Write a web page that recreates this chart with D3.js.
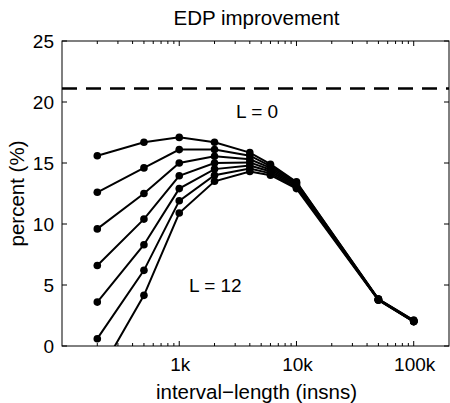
<!DOCTYPE html>
<html>
<head>
<meta charset="utf-8">
<script src="https://cdn.jsdelivr.net/npm/d3@7"></script>
<style>
  body { margin: 0; background: #fff; }
  text { font-family: "Liberation Sans", Arial, sans-serif; fill: #000; }
</style>
</head>
<body>
<svg id="chart"></svg>
<script>
// interval lengths (instructions)
var intervals = [200, 500, 1000, 2000, 4000, 6000, 10000, 50000, 100000];
// one series per L (0, 2, ..., 12)
var L0  = [15.6, 16.7, 17.1, 16.7, 15.85, 14.9, 13.45, 3.85, 2.1];
var L2  = [12.6, 14.6, 16.1, 16.1, 15.6, 14.75, 13.4, 3.85, 2.1];
var L4  = [9.6, 12.5, 15.0, 15.55, 15.3, 14.6, 13.3, 3.8, 2.05];
var L6  = [6.6, 10.4, 13.95, 15.0, 15.05, 14.45, 13.2, 3.8, 2.05];
var L8  = [3.6, 8.3, 12.9, 14.5, 14.8, 14.3, 13.1, 3.8, 2.0];
var L10 = [0.6, 6.2, 11.9, 14.0, 14.55, 14.15, 13.0, 3.8, 2.0];
var L12 = [-2.5, 4.15, 10.9, 13.5, 14.3, 14.0, 12.9, 3.75, 2.0];
var allSeries = [L0, L2, L4, L6, L8, L10, L12];
var limitValue = 21.1;   // dashed line
var yTicks = [0, 5, 10, 15, 20, 25];
var xTicks = [1000, 10000, 100000];
var xTickLabels = ["1k", "10k", "100k"];

var width = 450, height = 403;
var left = 62, top_ = 41, right = 449, bottom = 346;
var fontSize = 19;
var labelSize = 20.5;

var svg = d3.select("#chart").attr("width", width).attr("height", height);

var x = d3.scaleLog().domain([100, 200000]).range([left, right]);
var y = d3.scaleLinear().domain([0, 25]).range([bottom, top_]);

svg.append("defs").append("clipPath").attr("id", "plotclip")
    .append("rect")
    .attr("x", left).attr("y", top_)
    .attr("width", right - left).attr("height", bottom - top_);

// minor ticks on log axis
var minor = [];
for (var d = 100; d < 200000; d *= 10) {
    for (var m = 2; m <= 9; m++) {
        if (d * m < 200000) minor.push(d * m);
    }
}

var ticksG = svg.append("g").attr("stroke", "#000").attr("stroke-width", 1);
minor.forEach(function (v) {
    ticksG.append("line").attr("x1", x(v)).attr("x2", x(v)).attr("y1", bottom).attr("y2", bottom - 3);
    ticksG.append("line").attr("x1", x(v)).attr("x2", x(v)).attr("y1", top_).attr("y2", top_ + 3);
});
xTicks.forEach(function (v) {
    ticksG.append("line").attr("x1", x(v)).attr("x2", x(v)).attr("y1", bottom).attr("y2", bottom - 5);
    ticksG.append("line").attr("x1", x(v)).attr("x2", x(v)).attr("y1", top_).attr("y2", top_ + 5);
});
yTicks.forEach(function (v) {
    ticksG.append("line").attr("x1", left).attr("x2", left + 5).attr("y1", y(v)).attr("y2", y(v));
    ticksG.append("line").attr("x1", right).attr("x2", right - 5).attr("y1", y(v)).attr("y2", y(v));
});

// tick labels
svg.selectAll("text.ytick").data(yTicks).enter().append("text")
    .attr("class", "ytick")
    .attr("x", left - 8)
    .attr("y", function (d) { return y(d) + 7; })
    .attr("text-anchor", "end")
    .attr("font-size", fontSize)
    .text(function (d) { return d; });

svg.selectAll("text.xtick").data(xTicks).enter().append("text")
    .attr("class", "xtick")
    .attr("x", function (d) { return x(d) + 1; })
    .attr("y", 371)
    .attr("text-anchor", "middle")
    .attr("font-size", fontSize)
    .text(function (d, i) { return xTickLabels[i]; });

// plot contents
var plot = svg.append("g").attr("clip-path", "url(#plotclip)");

plot.append("line")
    .attr("x1", x(100)).attr("x2", x(200000))
    .attr("y1", y(limitValue)).attr("y2", y(limitValue))
    .attr("stroke", "#000")
    .attr("stroke-width", 2.5)
    .attr("stroke-dasharray", "15,9");

var line = d3.line()
    .x(function (d, i) { return x(intervals[i]); })
    .y(function (d) { return y(d); });

allSeries.forEach(function (s) {
    plot.append("path")
        .attr("d", line(s))
        .attr("fill", "none")
        .attr("stroke", "#000")
        .attr("stroke-width", 2);
    plot.selectAll(null).data(s).enter().append("circle")
        .attr("cx", function (d, i) { return x(intervals[i]); })
        .attr("cy", function (d) { return y(d); })
        .attr("r", 3.8)
        .attr("fill", "#000");
});

// frame
svg.append("rect")
    .attr("x", left).attr("y", top_)
    .attr("width", right - left).attr("height", bottom - top_)
    .attr("fill", "none")
    .attr("stroke", "#000")
    .attr("stroke-width", 1);

// annotations
svg.append("text").attr("x", 236).attr("y", 118).attr("font-size", fontSize).text("L = 0");
svg.append("text").attr("x", 189).attr("y", 292).attr("font-size", fontSize).text("L = 12");

// titles
svg.append("text")
    .attr("x", (left + right) / 2 + 1).attr("y", 25)
    .attr("text-anchor", "middle")
    .attr("font-size", labelSize)
    .text("EDP improvement");

svg.append("text")
    .attr("x", (left + right) / 2 + 1).attr("y", 399)
    .attr("text-anchor", "middle")
    .attr("font-size", labelSize)
    .text("interval\u2212length (insns)");

svg.append("text")
    .attr("transform", "translate(24," + ((top_ + bottom) / 2) + ") rotate(-90)")
    .attr("text-anchor", "middle")
    .attr("font-size", labelSize)
    .text("percent (%)");
</script>
</body>
</html>
